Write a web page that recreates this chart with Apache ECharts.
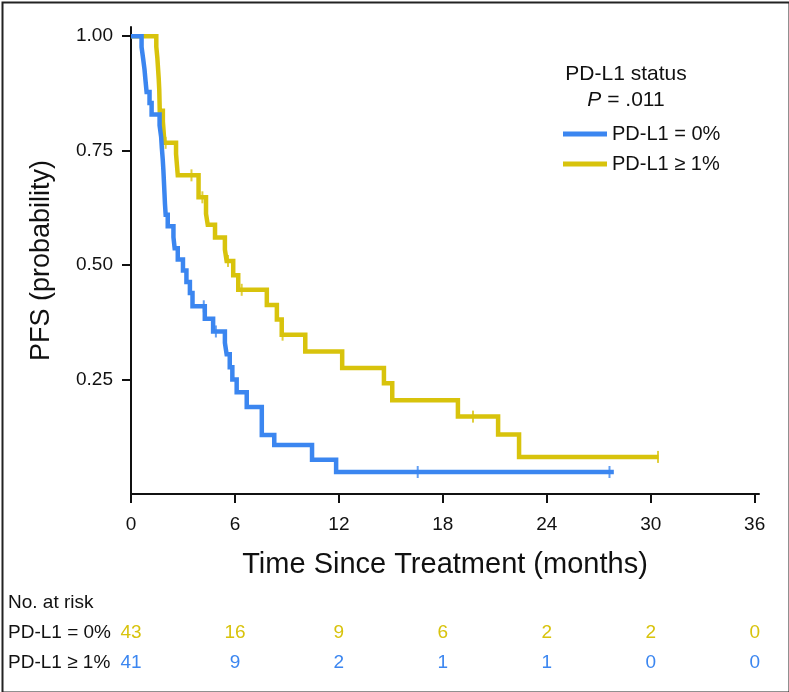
<!DOCTYPE html>
<html>
<head>
<meta charset="utf-8">
<script src="https://cdn.jsdelivr.net/npm/echarts@6/dist/echarts.min.js"></script>
<style>html,body{margin:0;padding:0;background:#fff}#c{width:789px;height:692px}</style>
</head>
<body>
<div id="c"></div>
<script>
// ---- data ----
const seriesNames = ['PD-L1 = 0%', 'PD-L1 \u2265 1%'];
// PD-L1 = 0% (blue) Kaplan-Meier steps: time (months), survival after the event
const timeA = [0, 0.61, 0.70, 0.78, 0.84, 0.90, 1.07, 1.19, 1.65, 1.74, 1.78, 1.83, 1.87, 1.90, 1.93, 1.96, 2.00, 2.12, 2.45, 2.52, 2.70, 3.00, 3.20, 3.40, 3.55, 4.26, 4.74, 5.42, 5.52, 5.70, 5.85, 6.10, 6.68, 7.55, 8.27, 10.45, 11.84, 27.87];
const survA = [1, 0.976, 0.951, 0.927, 0.902, 0.878, 0.854, 0.829, 0.805, 0.780, 0.756, 0.732, 0.707, 0.683, 0.659, 0.634, 0.610, 0.585, 0.561, 0.537, 0.512, 0.488, 0.463, 0.439, 0.410, 0.383, 0.355, 0.330, 0.305, 0.277, 0.250, 0.222, 0.190, 0.129, 0.107, 0.075, 0.048, 0.048];
const censorA = [4.20, 4.90, 16.55, 27.62];
// PD-L1 >= 1% (yellow)
const timeB = [0, 1.46, 1.52, 1.56, 1.60, 1.63, 1.66, 1.84, 1.93, 2.60, 2.70, 3.90, 4.33, 4.43, 4.85, 5.42, 5.52, 5.90, 6.19, 7.84, 8.42, 8.70, 10.06, 12.19, 14.60, 15.08, 18.87, 21.19, 22.40, 30.45];
const survB = [1, 0.977, 0.953, 0.930, 0.907, 0.884, 0.837, 0.814, 0.767, 0.743, 0.696, 0.648, 0.612, 0.588, 0.560, 0.534, 0.509, 0.478, 0.446, 0.413, 0.381, 0.348, 0.311, 0.275, 0.242, 0.205, 0.169, 0.130, 0.081, 0.081];
const censorB = [2.00, 3.49, 4.12, 5.60, 6.39, 8.75, 19.74, 30.42];
// axes
const xTicks = [0, 6, 12, 18, 24, 30, 36];
const yTicks = [0.25, 0.50, 0.75, 1.00];
// number at risk table
const riskRows = ['PD-L1 = 0%', 'PD-L1 \u2265 1%'];
const riskRow1 = [43, 16, 9, 6, 2, 2, 0];
const riskRow2 = [41, 9, 2, 1, 1, 0, 0];

// ---- styling ----
const BLUE = '#3b86f0';
const YELLOW = '#d8c30c';
const FONT = "'Liberation Sans', Arial, sans-serif";

function stepVal(ts, ss, t) {
  let v = ss[0];
  for (let i = 0; i < ts.length; i++) { if (ts[i] <= t) v = ss[i]; }
  return v;
}
const curveA = timeA.map((t, i) => [t, survA[i]]);
const curveB = timeB.map((t, i) => [t, survB[i]]);
const censA = censorA.map(t => [t, stepVal(timeA, survA, t)]);
const censB = censorB.map(t => [t, stepVal(timeB, survB, t)]);

function riskData(row, name) {
  return row.map((v, i) => ({value: [xTicks[i], name], num: v}));
}

const chart = echarts.init(document.getElementById('c'), null, {renderer: 'canvas'});
const option = {
  backgroundColor: '#fff',
  animation: false,
  textStyle: {fontFamily: FONT},
  title: [
    {text: 'PD-L1 status', left: 621, top: 59, textAlign: 'center',
     textStyle: {fontFamily: FONT, fontSize: 21, fontWeight: 'normal', color: '#111'}},
    {text: '{i|P} = .011', left: 621, top: 85, textAlign: 'center',
     textStyle: {fontFamily: FONT, fontSize: 21, fontWeight: 'normal', color: '#111',
       rich: {i: {fontFamily: FONT, fontSize: 21, fontStyle: 'italic', color: '#111'}}}}
  ],
  legend: {
    orient: 'vertical', left: 558, top: 119, itemWidth: 44, itemHeight: 5, itemGap: 10,
    icon: 'rect', data: seriesNames,
    textStyle: {fontFamily: FONT, fontSize: 20, color: '#111'}
  },
  grid: [
    {left: 131, top: 27, width: 628, height: 467},
    {left: 131, top: 618, width: 628, height: 60}
  ],
  xAxis: [
    {type: 'value', gridIndex: 0, min: 0, max: 36.25,
     name: 'Time Since Treatment (months)', nameLocation: 'middle', nameGap: 56,
     nameTextStyle: {fontFamily: FONT, fontSize: 29, color: '#111'},
     axisLine: {lineStyle: {color: '#111', width: 2}},
     axisTick: {length: 9, lineStyle: {color: '#111', width: 2}, customValues: xTicks},
     axisLabel: {fontSize: 19, color: '#111', margin: 21, customValues: xTicks, fontFamily: FONT},
     splitLine: {show: false}},
    {type: 'value', gridIndex: 1, min: 0, max: 36.25, show: false}
  ],
  yAxis: [
    {type: 'value', gridIndex: 0, min: 0, max: 1.02,
     name: 'PFS (probability)', nameLocation: 'middle', nameGap: 76,
     nameTextStyle: {fontFamily: FONT, fontSize: 27, color: '#111'},
     axisLine: {show: true, lineStyle: {color: '#111', width: 2}},
     axisTick: {show: true, length: 9, lineStyle: {color: '#111', width: 2}, customValues: yTicks},
     axisLabel: {fontSize: 19, color: '#111', margin: 18, customValues: yTicks, fontFamily: FONT,
       formatter: v => v.toFixed(2)},
     splitLine: {show: false}},
    {type: 'category', gridIndex: 1, inverse: true, data: riskRows,
     axisLine: {show: false}, axisTick: {show: false}, splitLine: {show: false},
     axisLabel: {align: 'left', margin: 123, fontSize: 19, color: '#111', fontFamily: FONT}}
  ],
  series: [
    {name: seriesNames[0], type: 'line', step: 'end', data: curveA, symbol: 'none',
     lineStyle: {color: BLUE, width: 4.5, join: 'miter'}, itemStyle: {color: BLUE}, z: 3},
    {name: seriesNames[1], type: 'line', step: 'end', data: curveB, symbol: 'none',
     lineStyle: {color: YELLOW, width: 4.5, join: 'miter'}, itemStyle: {color: YELLOW}, z: 2},
    {type: 'scatter', data: censA, symbol: 'rect', symbolSize: [2, 12], itemStyle: {color: BLUE}, z: 4},
    {type: 'scatter', data: censB, symbol: 'rect', symbolSize: [2, 12], itemStyle: {color: YELLOW}, z: 4},
    {type: 'scatter', xAxisIndex: 1, yAxisIndex: 1, symbolSize: 2, itemStyle: {color: 'rgba(255,255,255,0)'},
     data: riskData(riskRow1, riskRows[0]),
     label: {show: true, position: 'inside', formatter: p => String(p.data.num),
       fontSize: 19, color: YELLOW, fontFamily: FONT, textBorderWidth: 0, opacity: 1}},
    {type: 'scatter', xAxisIndex: 1, yAxisIndex: 1, symbolSize: 2, itemStyle: {color: 'rgba(255,255,255,0)'},
     data: riskData(riskRow2, riskRows[1]),
     label: {show: true, position: 'inside', formatter: p => String(p.data.num),
       fontSize: 19, color: BLUE, fontFamily: FONT, textBorderWidth: 0, opacity: 1}}
  ],
  graphic: [
    {type: 'text', left: 8, top: 593, style: {text: 'No. at risk', fontFamily: FONT, fontSize: 19, fill: '#111'}},
    {type: 'rect', left: 0, top: 0, shape: {x: 0, y: 0, width: 787, height: 690},
     style: {fill: 'none', stroke: '#222', lineWidth: 2}, silent: true}
  ]
};
chart.setOption(option);
</script>
</body>
</html>
